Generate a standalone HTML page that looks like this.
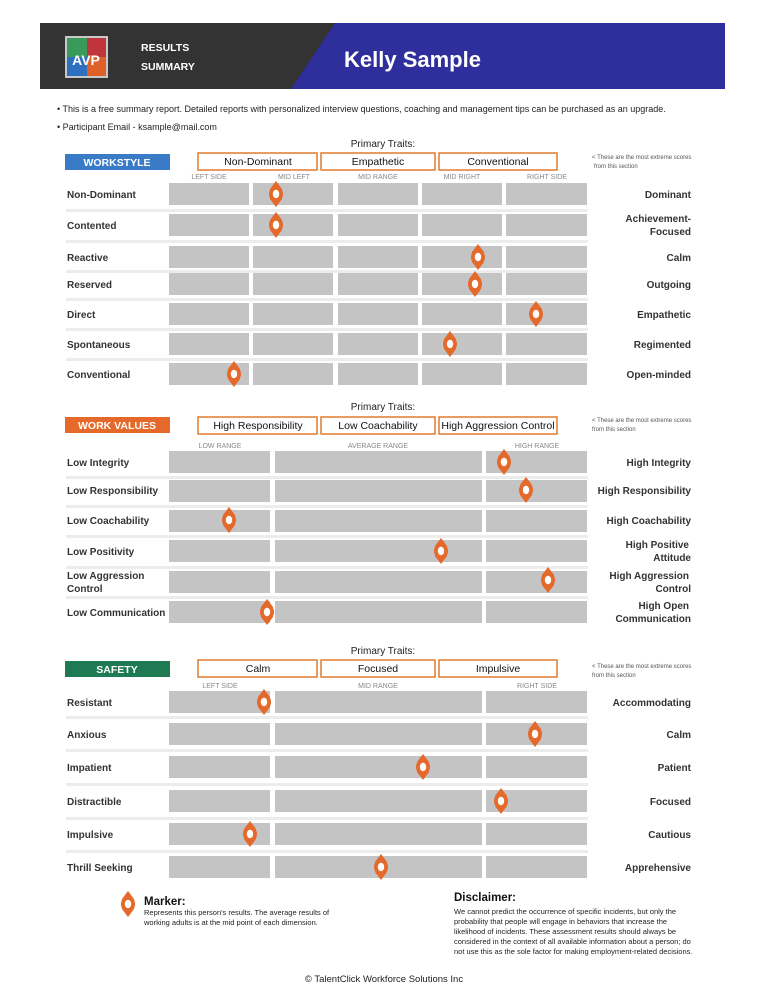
<!DOCTYPE html>
<html><head><meta charset="utf-8"><style>
body{margin:0;background:#fff}
svg{display:block;font-family:"Liberation Sans",Arial,sans-serif}
.l{font-size:10px;font-weight:bold;fill:#333}
.r{font-size:10px;font-weight:bold;fill:#333;text-anchor:end}
.c{font-size:7px;fill:#888;text-anchor:middle}
.t{font-size:10.5px;fill:#111;text-anchor:middle}
.n{font-size:6px;fill:#555}
.b{fill:#c4c4c4}
.s{fill:#ececec}
</style></head><body>
<svg width="768" height="994" viewBox="0 0 768 994">
<defs>
<g id="m"><path d="M0,-13 L6,-5 L6,5 L0,13 L-6,5 L-6,-5 Z" fill="#e4692a"/><ellipse cx="0" cy="0" rx="7" ry="8" fill="#e4692a"/><ellipse cx="0" cy="0" rx="3.2" ry="4.2" fill="#fff"/></g>
</defs>
<!-- header -->
<rect x="40" y="23" width="685" height="66" fill="#333"/>
<path d="M335,23 L725,23 L725,89 L291,89 Z" fill="#2e2e9c"/>
<rect x="65" y="36" width="43" height="42" fill="#c8c8c8"/>
<rect x="67" y="38" width="20" height="19" fill="#3a9a5a"/><rect x="87" y="38" width="19" height="19" fill="#c0353a"/>
<rect x="67" y="57" width="20" height="19" fill="#2e6fc0"/><rect x="87" y="57" width="19" height="19" fill="#e0602a"/>
<text x="86" y="65" font-size="14" font-weight="bold" fill="#fff" text-anchor="middle">AVP</text>
<text x="141" y="51" font-size="10.5" font-weight="bold" fill="#fff">RESULTS</text>
<text x="141" y="70" font-size="10.5" font-weight="bold" fill="#fff">SUMMARY</text>
<text x="344" y="67" font-size="22" font-weight="bold" fill="#fff">Kelly Sample</text>
<text x="57" y="112" font-size="9" fill="#222">• This is a free summary report. Detailed reports with personalized interview questions, coaching and management tips can be purchased as an upgrade.</text>
<text x="57" y="130" font-size="9" fill="#222">• Participant Email - ksample@mail.com</text>

<!-- WORKSTYLE -->
<text x="383" y="147" font-size="10" fill="#222" text-anchor="middle">Primary Traits:</text>
<rect x="65" y="154" width="105" height="16" fill="#3a7bc8"/>
<text x="117" y="166" font-size="10.5" font-weight="bold" fill="#fff" text-anchor="middle">WORKSTYLE</text>
<g fill="#fff" stroke="#e07b2e" stroke-width="1.5"><rect x="198" y="153" width="119" height="17"/><rect x="321" y="153" width="114" height="17"/><rect x="439" y="153" width="118" height="17"/></g>
<text class="t" x="258" y="165">Non-Dominant</text><text class="t" x="378" y="165">Empathetic</text><text class="t" x="498" y="165">Conventional</text>
<text class="n" x="592" y="159">&lt; These are the most extreme scores</text><text class="n" x="594" y="168">from this section</text>
<text class="c" x="209" y="179">LEFT SIDE</text><text class="c" x="294" y="179">MID LEFT</text><text class="c" x="378" y="179">MID RANGE</text><text class="c" x="462" y="179">MID RIGHT</text><text class="c" x="547" y="179">RIGHT SIDE</text>
<g class="s"><rect x="66" y="209" width="522" height="3"/><rect x="66" y="240" width="522" height="3"/><rect x="66" y="270" width="522" height="3"/><rect x="66" y="298" width="522" height="3"/><rect x="66" y="328" width="522" height="3"/><rect x="66" y="358" width="522" height="3"/></g>
<g class="b">
<rect x="169" y="183" width="80" height="22"/><rect x="253" y="183" width="80" height="22"/><rect x="338" y="183" width="80" height="22"/><rect x="422" y="183" width="80" height="22"/><rect x="506" y="183" width="81" height="22"/>
<rect x="169" y="214" width="80" height="22"/><rect x="253" y="214" width="80" height="22"/><rect x="338" y="214" width="80" height="22"/><rect x="422" y="214" width="80" height="22"/><rect x="506" y="214" width="81" height="22"/>
<rect x="169" y="246" width="80" height="22"/><rect x="253" y="246" width="80" height="22"/><rect x="338" y="246" width="80" height="22"/><rect x="422" y="246" width="80" height="22"/><rect x="506" y="246" width="81" height="22"/>
<rect x="169" y="273" width="80" height="22"/><rect x="253" y="273" width="80" height="22"/><rect x="338" y="273" width="80" height="22"/><rect x="422" y="273" width="80" height="22"/><rect x="506" y="273" width="81" height="22"/>
<rect x="169" y="303" width="80" height="22"/><rect x="253" y="303" width="80" height="22"/><rect x="338" y="303" width="80" height="22"/><rect x="422" y="303" width="80" height="22"/><rect x="506" y="303" width="81" height="22"/>
<rect x="169" y="333" width="80" height="22"/><rect x="253" y="333" width="80" height="22"/><rect x="338" y="333" width="80" height="22"/><rect x="422" y="333" width="80" height="22"/><rect x="506" y="333" width="81" height="22"/>
<rect x="169" y="363" width="80" height="22"/><rect x="253" y="363" width="80" height="22"/><rect x="338" y="363" width="80" height="22"/><rect x="422" y="363" width="80" height="22"/><rect x="506" y="363" width="81" height="22"/>
</g>
<text class="l" x="67" y="198">Non-Dominant</text><text class="r" x="691" y="198">Dominant</text>
<text class="l" x="67" y="229">Contented</text><text class="r" x="691" y="222">Achievement-</text><text class="r" x="691" y="235">Focused</text>
<text class="l" x="67" y="261">Reactive</text><text class="r" x="691" y="261">Calm</text>
<text class="l" x="67" y="288">Reserved</text><text class="r" x="691" y="288">Outgoing</text>
<text class="l" x="67" y="318">Direct</text><text class="r" x="691" y="318">Empathetic</text>
<text class="l" x="67" y="348">Spontaneous</text><text class="r" x="691" y="348">Regimented</text>
<text class="l" x="67" y="378">Conventional</text><text class="r" x="691" y="378">Open-minded</text>
<use href="#m" x="276" y="194"/><use href="#m" x="276" y="225"/><use href="#m" x="478" y="257"/><use href="#m" x="475" y="284"/><use href="#m" x="536" y="314"/><use href="#m" x="450" y="344"/><use href="#m" x="234" y="374"/>

<!-- WORK VALUES -->
<text x="383" y="410" font-size="10" fill="#222" text-anchor="middle">Primary Traits:</text>
<rect x="65" y="417" width="105" height="16" fill="#e4692a"/>
<text x="117" y="429" font-size="10.5" font-weight="bold" fill="#fff" text-anchor="middle">WORK VALUES</text>
<g fill="#fff" stroke="#e07b2e" stroke-width="1.5"><rect x="198" y="417" width="119" height="17"/><rect x="321" y="417" width="114" height="17"/><rect x="439" y="417" width="118" height="17"/></g>
<text class="t" x="258" y="429">High Responsibility</text><text class="t" x="378" y="429">Low Coachability</text><text class="t" x="498" y="429">High Aggression Control</text>
<text class="n" x="592" y="422">&lt; These are the most extreme scores</text><text class="n" x="592" y="431">from this section</text>
<text class="c" x="220" y="448">LOW RANGE</text><text class="c" x="378" y="448">AVERAGE RANGE</text><text class="c" x="537" y="448">HIGH RANGE</text>
<g class="s"><rect x="66" y="476" width="522" height="3"/><rect x="66" y="505" width="522" height="3"/><rect x="66" y="535" width="522" height="3"/><rect x="66" y="566" width="522" height="3"/><rect x="66" y="596" width="522" height="3"/></g>
<g class="b">
<rect x="169" y="451" width="101" height="22"/><rect x="275" y="451" width="207" height="22"/><rect x="486" y="451" width="101" height="22"/>
<rect x="169" y="480" width="101" height="22"/><rect x="275" y="480" width="207" height="22"/><rect x="486" y="480" width="101" height="22"/>
<rect x="169" y="510" width="101" height="22"/><rect x="275" y="510" width="207" height="22"/><rect x="486" y="510" width="101" height="22"/>
<rect x="169" y="540" width="101" height="22"/><rect x="275" y="540" width="207" height="22"/><rect x="486" y="540" width="101" height="22"/>
<rect x="169" y="571" width="101" height="22"/><rect x="275" y="571" width="207" height="22"/><rect x="486" y="571" width="101" height="22"/>
<rect x="169" y="601" width="101" height="22"/><rect x="275" y="601" width="207" height="22"/><rect x="486" y="601" width="101" height="22"/>
</g>
<text class="l" x="67" y="466">Low Integrity</text><text class="r" x="691" y="466">High Integrity</text>
<text class="l" x="67" y="494">Low Responsibility</text><text class="r" x="691" y="494">High Responsibility</text>
<text class="l" x="67" y="524">Low Coachability</text><text class="r" x="691" y="524">High Coachability</text>
<text class="l" x="67" y="555">Low Positivity</text><text class="r" x="689" y="548">High Positive</text><text class="r" x="691" y="561">Attitude</text>
<text class="l" x="67" y="579">Low Aggression</text><text class="l" x="67" y="592">Control</text><text class="r" x="689" y="579">High Aggression</text><text class="r" x="691" y="592">Control</text>
<text class="l" x="67" y="616">Low Communication</text><text class="r" x="689" y="609">High Open</text><text class="r" x="691" y="622">Communication</text>
<use href="#m" x="504" y="462"/><use href="#m" x="526" y="490"/><use href="#m" x="229" y="520"/><use href="#m" x="441" y="551"/><use href="#m" x="548" y="580"/><use href="#m" x="267" y="612"/>

<!-- SAFETY -->
<text x="383" y="654" font-size="10" fill="#222" text-anchor="middle">Primary Traits:</text>
<rect x="65" y="661" width="105" height="16" fill="#1e7a52"/>
<text x="117" y="673" font-size="10.5" font-weight="bold" fill="#fff" text-anchor="middle">SAFETY</text>
<g fill="#fff" stroke="#e07b2e" stroke-width="1.5"><rect x="198" y="660" width="119" height="17"/><rect x="321" y="660" width="114" height="17"/><rect x="439" y="660" width="118" height="17"/></g>
<text class="t" x="258" y="672">Calm</text><text class="t" x="378" y="672">Focused</text><text class="t" x="498" y="672">Impulsive</text>
<text class="n" x="592" y="668">&lt; These are the most extreme scores</text><text class="n" x="592" y="677">from this section</text>
<text class="c" x="220" y="688">LEFT SIDE</text><text class="c" x="378" y="688">MID RANGE</text><text class="c" x="537" y="688">RIGHT SIDE</text>
<g class="s"><rect x="66" y="716" width="522" height="3"/><rect x="66" y="749" width="522" height="3"/><rect x="66" y="783" width="522" height="3"/><rect x="66" y="817" width="522" height="3"/><rect x="66" y="850" width="522" height="3"/></g>
<g class="b">
<rect x="169" y="691" width="101" height="22"/><rect x="275" y="691" width="207" height="22"/><rect x="486" y="691" width="101" height="22"/>
<rect x="169" y="723" width="101" height="22"/><rect x="275" y="723" width="207" height="22"/><rect x="486" y="723" width="101" height="22"/>
<rect x="169" y="756" width="101" height="22"/><rect x="275" y="756" width="207" height="22"/><rect x="486" y="756" width="101" height="22"/>
<rect x="169" y="790" width="101" height="22"/><rect x="275" y="790" width="207" height="22"/><rect x="486" y="790" width="101" height="22"/>
<rect x="169" y="823" width="101" height="22"/><rect x="275" y="823" width="207" height="22"/><rect x="486" y="823" width="101" height="22"/>
<rect x="169" y="856" width="101" height="22"/><rect x="275" y="856" width="207" height="22"/><rect x="486" y="856" width="101" height="22"/>
</g>
<text class="l" x="67" y="706">Resistant</text><text class="r" x="691" y="706">Accommodating</text>
<text class="l" x="67" y="738">Anxious</text><text class="r" x="691" y="738">Calm</text>
<text class="l" x="67" y="771">Impatient</text><text class="r" x="691" y="771">Patient</text>
<text class="l" x="67" y="805">Distractible</text><text class="r" x="691" y="805">Focused</text>
<text class="l" x="67" y="838">Impulsive</text><text class="r" x="691" y="838">Cautious</text>
<text class="l" x="67" y="871">Thrill Seeking</text><text class="r" x="691" y="871">Apprehensive</text>
<use href="#m" x="264" y="702"/><use href="#m" x="535" y="734"/><use href="#m" x="423" y="767"/><use href="#m" x="501" y="801"/><use href="#m" x="250" y="834"/><use href="#m" x="381" y="867"/>

<!-- footer -->
<use href="#m" x="128" y="904"/>
<text x="144" y="905" font-size="11.5" font-weight="bold" fill="#111">Marker:</text>
<text x="144" y="915" font-size="7.5" fill="#222">Represents this person's results. The average results of</text>
<text x="144" y="925" font-size="7.5" fill="#222">working adults is at the mid point of each dimension.</text>
<text x="454" y="901" font-size="11.5" font-weight="bold" fill="#111">Disclaimer:</text>
<text x="454" y="914" font-size="7.5" fill="#222">We cannot predict the occurrence of specific incidents, but only the</text>
<text x="454" y="924" font-size="7.5" fill="#222">probability that people will engage in behaviors that increase the</text>
<text x="454" y="934" font-size="7.5" fill="#222">likelihood of incidents. These assessment results should always be</text>
<text x="454" y="944" font-size="7.5" fill="#222">considered in the context of all available information about a person; do</text>
<text x="454" y="954" font-size="7.5" fill="#222">not use this as the sole factor for making employment-related decisions.</text>
<text x="384" y="982" font-size="9.5" fill="#222" text-anchor="middle">© TalentClick Workforce Solutions Inc</text>
</svg>
</body></html>
